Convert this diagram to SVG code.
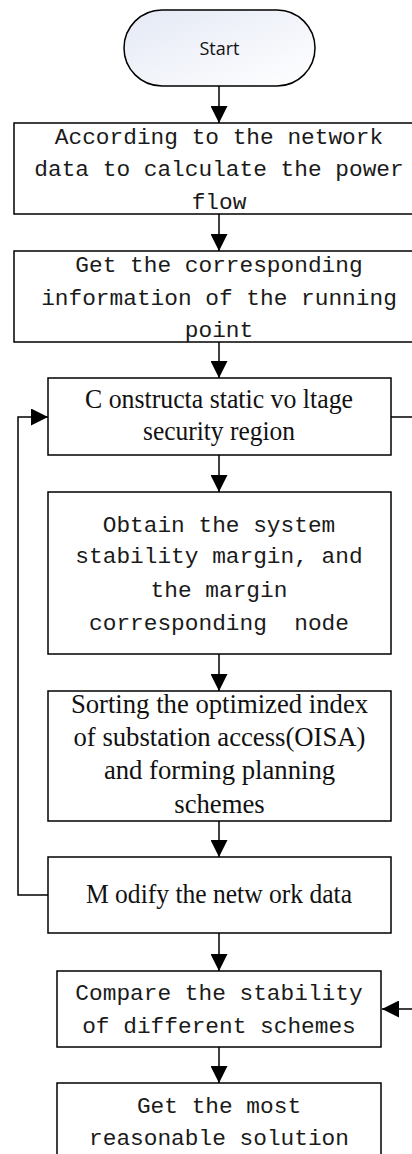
<svg xmlns="http://www.w3.org/2000/svg" width="412" height="1154" viewBox="0 0 412 1154">
<defs>
<linearGradient id="startFill" x1="0" y1="0" x2="1" y2="1">
<stop offset="0" stop-color="#e4e9f5"/>
<stop offset="1" stop-color="#ffffff"/>
</linearGradient>
<marker id="arrow" markerUnits="userSpaceOnUse" markerWidth="18" markerHeight="17" refX="17" refY="8.5" orient="auto">
<path d="M0,0 L17,8.5 L0,17 z" fill="#000"/>
</marker>
<style>
.box{fill:#fff;stroke:#000;stroke-width:1.5}
.term{fill:url(#startFill);stroke:#000;stroke-width:1.5}
.conn{fill:none;stroke:#000;stroke-width:1.5}
.mono{font-family:"Liberation Mono",monospace;font-size:22.8px;fill:#1a1a1a;white-space:pre;text-anchor:middle}
.serif{font-family:"Liberation Serif",serif;font-size:26.7px;fill:#111;white-space:pre}
.sans{font-family:"Open Sans","Noto Sans",sans-serif;font-size:18px;fill:#111}
</style>
</defs>
<g id="connectors">
<path class="conn" d="M219,86 V123" marker-end="url(#arrow)"/>
<path class="conn" d="M219,214 V251" marker-end="url(#arrow)"/>
<path class="conn" d="M219,342 V378" marker-end="url(#arrow)"/>
<path class="conn" d="M219,455 V492" marker-end="url(#arrow)"/>
<path class="conn" d="M219,654 V691" marker-end="url(#arrow)"/>
<path class="conn" d="M219,821 V857" marker-end="url(#arrow)"/>
<path class="conn" d="M219,933 V971" marker-end="url(#arrow)"/>
<path class="conn" d="M219,1047 V1083" marker-end="url(#arrow)"/>
<path class="conn" d="M48,895 H18 V417 H48" marker-end="url(#arrow)"/>
<path class="conn" d="M391,417 H422 V1009 H382" marker-end="url(#arrow)"/>
</g>
<g id="start">
<rect class="term" x="124" y="10" width="191" height="76" rx="38" ry="38"/>
<text class="sans" x="219.5" y="55" text-anchor="middle">Start</text>
</g>
<g id="calc-power-flow">
<rect class="box" x="14" y="123" width="410" height="91"/>
<text class="mono" x="219" y="144">According to the network</text>
<text class="mono" x="219" y="176">data to calculate the power</text>
<text class="mono" x="219" y="209">flow</text>
</g>
<g id="running-point">
<rect class="box" x="14" y="251" width="410" height="91"/>
<text class="mono" x="219" y="272">Get the corresponding</text>
<text class="mono" x="219" y="305">information of the running</text>
<text class="mono" x="219" y="337">point</text>
</g>
<g id="construct-region">
<rect class="box" x="48" y="378" width="343" height="77"/>
<text class="serif" x="85" y="408" textLength="268" lengthAdjust="spacingAndGlyphs">C onstructa static vo ltage</text>
<text class="serif" x="143" y="440" textLength="152" lengthAdjust="spacingAndGlyphs">security region</text>
</g>
<g id="stability-margin">
<rect class="box" x="48" y="492" width="343" height="162"/>
<text class="mono" x="219" y="532">Obtain the system</text>
<text class="mono" x="219" y="563">stability margin, and</text>
<text class="mono" x="219" y="597">the margin</text>
<text class="mono" x="219" y="630">corresponding  node</text>
</g>
<g id="sorting-oisa">
<rect class="box" x="48" y="691" width="343" height="130"/>
<text class="serif" x="219.5" y="713" text-anchor="middle" font-size="27">Sorting the optimized index</text>
<text class="serif" x="219.5" y="746" text-anchor="middle" font-size="27">of substation access(OISA)</text>
<text class="serif" x="219.5" y="779" text-anchor="middle" font-size="27">and forming planning</text>
<text class="serif" x="219.5" y="813" text-anchor="middle" font-size="27">schemes</text>
</g>
<g id="modify-network">
<rect class="box" x="48" y="857" width="343" height="76"/>
<text class="serif" x="86" y="903" textLength="266" lengthAdjust="spacingAndGlyphs">M odify the netw ork data</text>
</g>
<g id="compare-stability">
<rect class="box" x="57" y="971" width="324" height="76"/>
<text class="mono" x="219" y="1000">Compare the stability</text>
<text class="mono" x="219" y="1033">of different schemes</text>
</g>
<g id="best-solution">
<rect class="box" x="57" y="1083" width="324" height="80"/>
<text class="mono" x="219" y="1113">Get the most</text>
<text class="mono" x="219" y="1145">reasonable solution</text>
</g>
</svg>
